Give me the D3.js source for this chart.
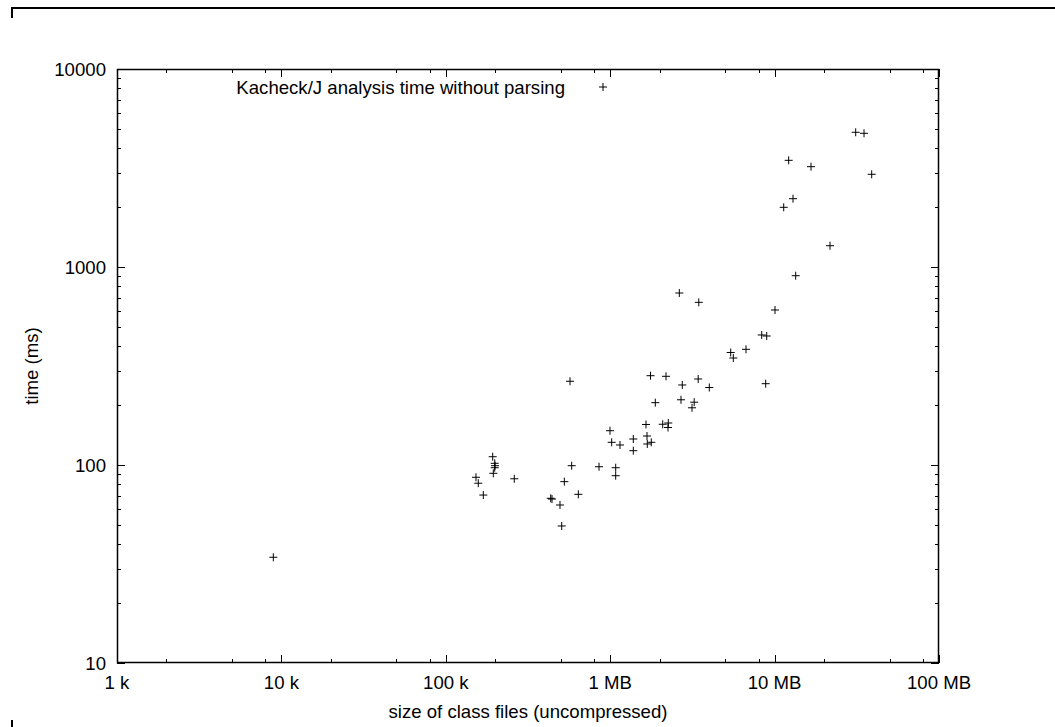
<!DOCTYPE html>
<html>
<head>
<meta charset="utf-8">
<script src="https://cdn.jsdelivr.net/npm/d3@7"></script>
<style>
  html, body { margin: 0; padding: 0; background: #fff; }
  svg { display: block; }
  text { font-family: "Liberation Sans", Arial, Helvetica, sans-serif; font-size: 18.6px; fill: #000; }
</style>
</head>
<body>
<svg id="chart" width="1055" height="727"></svg>
<script>
// size of class files in kB (1 = 1 k, 1000 = 1 MB)
const sizeKB = [
  8.93, 152.6, 157.6, 169.1, 192.9, 198.4, 199.3, 198.4, 194.5, 261,
  434.6, 442.6, 495, 507, 526, 583, 640, 569.6, 855, 1080,
  1080, 997, 1021, 1147, 1382, 1382, 1674, 1681, 1778, 1651,
  2086, 2256, 2247, 1759, 2185, 2745, 3430, 4006, 1881, 2696,
  3243, 3145, 2633, 3458, 5408, 5609, 6699, 8349, 8953, 8828,
  10055, 13440, 21730, 11360, 12940, 12180, 16650, 31140, 34990, 38960
];
// analysis time in ms
const timeMs = [
  34.2, 86.7, 80.9, 70.5, 110.1, 102, 99.2, 96.9, 90.8, 85.2,
  67.9, 67.3, 62.8, 49.2, 82.4, 99.2, 71.1, 264.8, 98, 96.9,
  88.3, 149, 130.2, 126.2, 135.3, 118.1, 140.1, 127.7, 130.2, 160.2,
  160.6, 163, 154.7, 282.5, 280.5, 253.6, 271.9, 246.2, 206.4, 213.5,
  207.6, 194.5, 739, 663, 370, 347, 384, 453.6, 448.3, 257.4,
  606.5, 903.7, 1281, 2002, 2213, 3458, 3211, 4790, 4734, 2939
];
const xTickValues = [1, 10, 100, 1000, 10000, 100000];
const xTickLabels = ["1 k", "10 k", "100 k", "1 MB", "10 MB", "100 MB"];
const yTickValues = [10, 100, 1000, 10000];
const yTickLabels = ["10", "100", "1000", "10000"];
const seriesName = "Kacheck/J analysis time without parsing";
const xTitle = "size of class files (uncompressed)";
const yTitle = "time (ms)";

const svg = d3.select("#chart");
const L = 117, R = 939, T = 69, B = 663;
const x = d3.scaleLog().domain([1, 100000]).range([L, R]);
const y = d3.scaleLog().domain([10, 10000]).range([B, T]);

// page frame marks
const frame = svg.append("g").attr("stroke", "#000").attr("stroke-width", 2).attr("fill", "none");
frame.append("line").attr("x1", 11).attr("x2", 1055).attr("y1", 8).attr("y2", 8);
frame.append("line").attr("x1", 12).attr("x2", 12).attr("y1", 7).attr("y2", 18);
frame.append("line").attr("x1", 12).attr("x2", 12).attr("y1", 720).attr("y2", 727);

// minor ticks
const xMinor = [];
for (let d = 1; d < 100000; d *= 10) [2, 5, 8].forEach(m => xMinor.push(d * m));
const yMinor = [];
for (let d = 10; d < 10000; d *= 10) for (let m = 2; m <= 9; m++) yMinor.push(d * m);

const ticks = svg.append("g").attr("stroke", "#000").attr("stroke-width", 1);
function xt(v, len) {
  const px = Math.round(x(v)) + 0.5;
  ticks.append("line").attr("x1", px).attr("x2", px).attr("y1", B).attr("y2", B - len);
  ticks.append("line").attr("x1", px).attr("x2", px).attr("y1", T).attr("y2", T + len);
}
function yt(v, len) {
  const py = Math.round(y(v)) + 0.5;
  ticks.append("line").attr("y1", py).attr("y2", py).attr("x1", L).attr("x2", L + len);
  ticks.append("line").attr("y1", py).attr("y2", py).attr("x1", R).attr("x2", R - len);
}
xMinor.forEach(v => xt(v, 4));
xTickValues.forEach(v => xt(v, 8));
yMinor.forEach(v => yt(v, 4));
yTickValues.forEach(v => yt(v, 8));

// plot border
svg.append("rect").attr("x", L + 0.5).attr("y", T + 0.5).attr("width", R - L - 1).attr("height", B - T - 1)
  .attr("fill", "none").attr("stroke", "#000").attr("stroke-width", 1.5);

// tick labels
xTickValues.forEach((v, i) => {
  svg.append("text").attr("x", x(v)).attr("y", 689).attr("text-anchor", "middle").text(xTickLabels[i]);
});
yTickValues.forEach((v, i) => {
  svg.append("text").attr("x", 106).attr("y", y(v) + 6.5).attr("text-anchor", "end").text(yTickLabels[i]);
});

// titles
svg.append("text").attr("x", (L + R) / 2).attr("y", 718).attr("text-anchor", "middle").text(xTitle);
svg.append("text").attr("transform", "translate(38," + ((T + B) / 2) + ") rotate(-90)")
  .attr("text-anchor", "middle").text(yTitle);

// points
function cross(g, cx, cy) {
  g.append("line").attr("x1", cx - 4).attr("x2", cx + 4).attr("y1", cy).attr("y2", cy);
  g.append("line").attr("x1", cx).attr("x2", cx).attr("y1", cy - 4).attr("y2", cy + 4);
}
const pts = svg.append("g").attr("stroke", "#000").attr("stroke-width", 1);
sizeKB.forEach((s, i) => cross(pts, x(s), y(timeMs[i])));

// legend
svg.append("text").attr("x", 565).attr("y", 93.5).attr("text-anchor", "end").text(seriesName);
cross(pts, 603, 87);
</script>
</body>
</html>
